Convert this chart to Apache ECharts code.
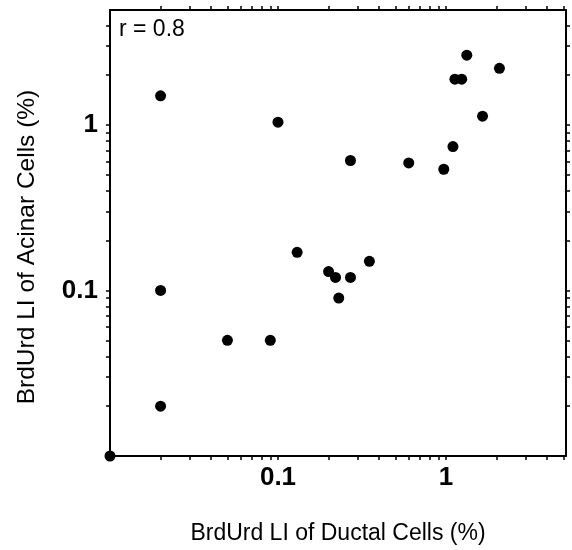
<!DOCTYPE html>
<html>
<head>
<meta charset="utf-8">
<script src="https://cdn.jsdelivr.net/npm/echarts@6/dist/echarts.min.js"></script>
<style>
  html, body { margin: 0; padding: 0; background: #fff; }
  #main { width: 572px; height: 550px; }
</style>
</head>
<body>
<div id="main"></div>
<script>
// BrdUrd labelling index, ductal (x) vs acinar (y), in %
var ductal = [0.01, 0.02, 0.02, 0.02, 0.05, 0.09, 0.1, 0.13, 0.2, 0.22, 0.23, 0.27,
              0.35, 0.27, 0.6, 0.97, 1.1, 1.13, 1.24, 1.33, 1.65, 2.08];
var acinar = [0.01, 1.5, 0.1, 0.02, 0.05, 0.05, 1.04, 0.17, 0.13, 0.12, 0.09, 0.12,
              0.15, 0.61, 0.59, 0.54, 0.74, 1.89, 1.89, 2.64, 1.13, 2.2];

var xTicks = [0.02, 0.03, 0.04, 0.05, 0.06, 0.07, 0.08, 0.09, 0.1,
              0.2, 0.3, 0.4, 0.5, 0.6, 0.7, 0.8, 0.9, 1, 2, 3, 4, 5];
var yTicks = [0.02, 0.03, 0.04, 0.05, 0.06, 0.07, 0.08, 0.09, 0.1,
              0.2, 0.3, 0.4, 0.5, 0.6, 0.7, 0.8, 0.9, 1, 2, 3, 4];
var tickLabels = [0.1, 1];

var points = ductal.map(function (d, i) { return [d, acinar[i]]; });

var font = 'Liberation Sans, Arial, Helvetica, sans-serif';
var line = { show: true, onZero: false, lineStyle: { color: '#000', width: 2 } };
var tick = function (vals) {
    return { show: true, inside: false, length: 4, customValues: vals,
             lineStyle: { color: '#000', width: 1.5 } };
};

var chart = echarts.init(document.getElementById('main'));
chart.setOption({
    backgroundColor: '#fff',
    animation: false,
    grid: { left: 110, right: 6, top: 10, bottom: 94, containLabel: false, outerBoundsMode: 'none' },
    xAxis: [{
        type: 'log', min: 0.01, max: 5.18, position: 'bottom',
        axisLine: line, axisTick: tick(xTicks), splitLine: { show: false },
        axisLabel: { customValues: tickLabels, margin: 9, color: '#000',
                     fontFamily: font, fontWeight: 'bold', fontSize: 26 },
        name: 'BrdUrd LI of Ductal Cells (%)', nameLocation: 'middle', nameGap: 66,
        nameTextStyle: { color: '#000', fontFamily: font, fontSize: 23 }
    }, {
        type: 'log', min: 0.01, max: 5.18, position: 'top',
        axisLine: line, axisTick: tick(xTicks), splitLine: { show: false },
        axisLabel: { show: false }
    }],
    yAxis: [{
        type: 'log', min: 0.01, max: 4.95, position: 'left',
        axisLine: line, axisTick: tick(yTicks), splitLine: { show: false },
        axisLabel: { customValues: tickLabels, margin: 12, color: '#000',
                     fontFamily: font, fontWeight: 'bold', fontSize: 26 },
        name: 'BrdUrd LI of Acinar Cells (%)', nameLocation: 'middle', nameGap: 70,
        nameTextStyle: { color: '#000', fontFamily: font, fontSize: 24.5, padding: [0, 28, 0, 0] }
    }, {
        type: 'log', min: 0.01, max: 4.95, position: 'right',
        axisLine: line, axisTick: tick(yTicks), splitLine: { show: false },
        axisLabel: { show: false }
    }],
    graphic: [{
        type: 'text', left: 119, top: 18,
        style: { text: 'r = 0.8', fill: '#000', font: '23px ' + font }
    }],
    series: [{
        type: 'scatter', xAxisIndex: 0, yAxisIndex: 0, clip: false,
        symbol: 'circle', symbolSize: 11,
        itemStyle: { color: '#000', opacity: 1 },
        data: points
    }]
});
</script>
</body>
</html>
